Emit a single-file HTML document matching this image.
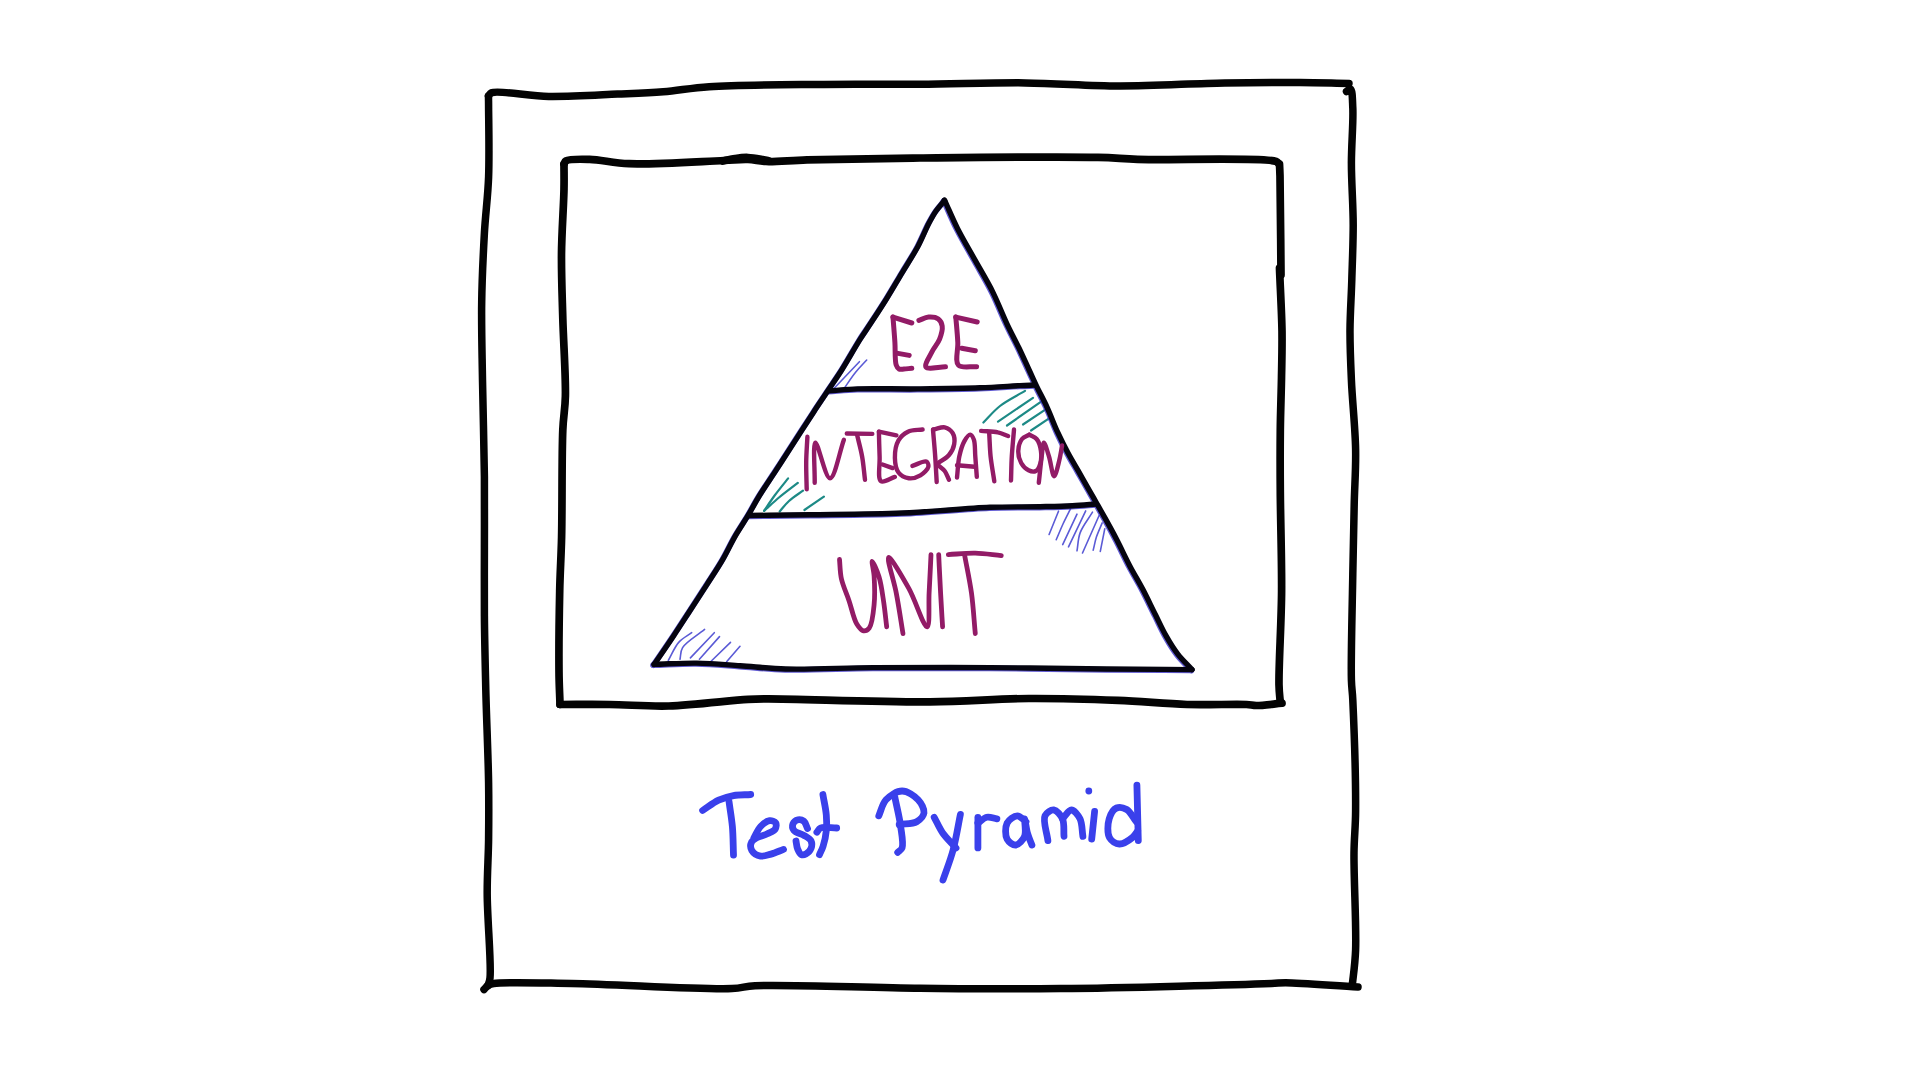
<!DOCTYPE html>
<html><head><meta charset="utf-8"><title>Test Pyramid</title>
<style>
html,body{margin:0;padding:0;background:#fff;width:1920px;height:1080px;overflow:hidden;font-family:"Liberation Sans",sans-serif;}
svg{display:block;}
</style></head>
<body>
<svg width="1920" height="1080" viewBox="0 0 1920 1080">
<rect width="1920" height="1080" fill="#ffffff"/>
<g fill="none" stroke="#5b5bd6" stroke-width="1.6" stroke-linecap="round" stroke-linejoin="round" >
  <path d="M834.4,388.0L859.4,361.7"/>
  <path d="M844.4,388.0C848.1,382.7 851.7,377.0 855.6,372.2C859.2,367.8 863.0,364.1 866.7,360.0"/>
  <path d="M668.3,660.5C671.8,654.5 674.5,647.2 678.7,642.4C682.4,638.2 687.4,635.9 691.7,632.7"/>
  <path d="M680.0,659.2C680.9,655.3 680.2,651.5 682.6,647.6C686.3,641.6 697.3,635.5 704.6,629.4"/>
  <path d="M690.4,657.9L714.3,632.7"/>
  <path d="M699.4,659.2L719.5,636.6"/>
  <path d="M711.1,661.2L730.5,642.4"/>
  <path d="M726.6,661.8L740.0,646.3"/>
  <path d="M1049.1,534.5L1058.5,511.2"/>
  <path d="M1056.2,539.7C1058.5,534.5 1060.6,529.2 1063.0,524.0C1065.4,518.9 1068.0,513.9 1070.5,508.9"/>
  <path d="M1062.7,544.6L1077.0,514.1"/>
  <path d="M1068.5,546.9L1085.7,510.9"/>
  <path d="M1077.0,550.8C1078.1,544.7 1077.9,538.6 1080.2,532.6C1082.8,525.8 1088.4,519.0 1092.5,512.2"/>
  <path d="M1082.5,553.0L1099.0,515.7"/>
  <path d="M1093.2,550.1C1094.3,545.8 1095.0,541.5 1096.4,537.1C1097.9,532.4 1100.3,527.6 1102.2,522.9"/>
  <path d="M1100.3,551.4L1104.8,528.7"/>
</g>
<g fill="none" stroke="#1d8a86" stroke-width="2.2" stroke-linecap="round" stroke-linejoin="round" >
  <path d="M983.4,422.5C988.9,417.0 993.6,411.0 1000.0,406.0C1007.2,400.4 1016.7,395.9 1025.0,390.9"/>
  <path d="M998.0,421.6L1033.0,397.8"/>
  <path d="M1007.0,425.5L1040.8,401.8"/>
  <path d="M1023.0,424.5L1046.8,408.7"/>
  <path d="M1031.0,430.5L1048.7,418.6"/>
  <path d="M764.1,510.8C767.7,505.5 771.1,500.3 775.0,495.0C779.1,489.5 783.7,483.9 788.1,478.4"/>
  <path d="M764.1,510.8C769.1,506.4 773.7,501.9 779.0,497.5C784.8,492.6 791.5,487.8 797.8,482.9"/>
  <path d="M779.7,511.4C782.8,507.9 785.4,504.3 789.0,501.0C793.0,497.3 798.3,494.1 803.0,490.7"/>
  <path d="M804.4,510.0L823.9,496.7"/>
</g>
<g fill="none" stroke="#030303" stroke-width="7.5" stroke-linecap="round" stroke-linejoin="round" >
  <path d="M488.5,96.0C489.5,94.9 489.6,93.6 491.5,92.8C498.5,90.0 528.7,96.1 548.7,96.4C570.6,96.7 596.9,95.0 617.5,94.1C634.3,93.4 648.0,93.0 663.3,91.8C678.6,90.6 690.4,87.9 709.2,86.7C738.8,84.8 787.2,84.8 823.7,84.4C857.2,84.0 887.2,84.5 920.0,84.3C954.4,84.1 991.4,82.6 1025.5,82.9C1057.6,83.2 1086.9,85.8 1119.0,85.9C1153.2,86.0 1192.4,83.4 1224.7,82.9C1251.9,82.4 1277.6,82.3 1300.0,82.5C1318.1,82.6 1332.7,83.2 1349.0,83.5"/>
  <path d="M1346.5,91.5C1347.8,90.7 1349.5,88.5 1350.5,89.0C1352.5,90.0 1352.4,99.9 1352.8,107.8C1353.5,121.3 1351.4,144.1 1351.4,163.0C1351.4,183.1 1353.2,205.0 1353.2,225.0C1353.2,243.9 1352.3,262.1 1351.8,280.0C1351.3,297.1 1350.1,313.3 1350.0,330.0C1349.9,346.7 1350.6,362.0 1351.4,380.0C1352.3,401.2 1355.2,427.2 1355.6,449.0C1356.0,468.6 1354.6,485.4 1354.2,505.0C1353.7,526.8 1353.2,548.5 1352.8,574.0C1352.3,605.6 1350.8,658.6 1351.4,680.0C1351.7,689.3 1352.4,690.6 1352.8,700.0C1353.8,722.0 1355.8,782.8 1355.6,811.0C1355.5,828.3 1354.2,836.1 1354.0,853.0C1353.7,878.7 1356.5,926.8 1355.6,950.0C1355.1,963.0 1353.5,974.4 1352.8,980.5C1352.5,983.1 1352.3,984.2 1352.0,986.0"/>
  <path d="M484.0,989.5C485.3,988.2 486.4,986.5 488.0,985.5C489.6,984.5 490.6,984.0 493.7,983.5C504.7,981.6 541.1,983.0 571.7,983.5C615.6,984.2 702.7,990.0 732.0,988.6C743.2,988.1 743.8,986.3 755.0,985.7C784.9,984.1 867.2,987.8 920.0,988.3C968.7,988.7 1009.0,989.2 1060.6,988.6C1123.8,987.9 1242.6,984.5 1271.5,983.4C1279.0,983.1 1279.1,982.7 1285.6,982.7C1300.4,982.8 1333.9,985.6 1358.0,987.0"/>
  <path d="M488.5,96.0C488.5,100.0 488.6,102.4 488.6,108.0C488.7,121.5 489.4,155.2 488.6,177.0C487.9,196.7 485.5,213.3 484.4,233.0C483.2,254.8 482.0,278.3 481.7,302.0C481.3,327.2 482.1,352.6 482.5,380.0C483.0,410.6 484.1,447.3 484.4,477.0C484.6,502.2 484.4,523.8 484.4,547.0C484.4,570.1 484.2,592.6 484.4,616.0C484.6,640.2 485.2,663.9 485.8,690.0C486.5,719.2 488.2,755.9 488.6,783.0C488.9,804.0 488.8,820.4 488.6,839.0C488.4,857.4 487.1,873.7 487.2,894.0C487.3,919.0 491.5,965.2 490.0,978.0C489.6,981.9 488.7,983.0 488.0,985.5"/>
</g>
<g fill="none" stroke="#030303" stroke-width="7.7" stroke-linecap="round" stroke-linejoin="round" >
  <path d="M564.0,164.0C564.7,162.9 564.6,161.6 566.0,160.8C569.4,158.8 580.7,159.2 589.6,159.4C601.1,159.7 613.0,163.1 629.0,163.7C653.8,164.6 702.8,161.3 724.0,160.5C734.6,160.1 740.6,159.2 748.0,159.5C754.4,159.7 758.8,161.2 766.0,161.5C776.9,161.9 789.9,160.3 807.0,159.8C835.3,159.0 878.1,158.4 920.0,158.0C972.6,157.5 1059.9,156.5 1098.0,157.4C1116.0,157.8 1120.5,158.8 1137.7,159.4C1169.9,160.4 1264.3,156.9 1276.0,161.4C1278.0,162.2 1278.0,163.1 1279.0,164.0"/>
  <path d="M723.0,161.0C727.0,160.2 730.9,159.1 735.0,158.5C739.2,157.9 743.2,157.3 748.0,157.5C754.0,157.7 761.3,159.5 768.0,160.5"/>
  <path d="M1279.5,164.0C1279.7,168.0 1279.8,170.1 1280.0,176.0C1280.4,193.0 1280.7,242.0 1281.0,275.0"/>
  <path d="M1279.5,268.0C1280.3,289.2 1281.7,312.0 1282.0,331.5C1282.2,348.2 1281.8,362.1 1281.5,378.0C1281.2,394.8 1280.5,411.9 1280.3,430.0C1280.1,449.7 1280.1,468.8 1280.3,491.8C1280.5,521.0 1281.8,558.4 1281.6,591.0C1281.4,622.8 1278.6,665.9 1279.0,685.0C1279.2,693.4 1279.9,697.0 1280.3,703.0"/>
  <path d="M560.0,704.5C576.5,704.5 592.2,704.3 609.4,704.5C628.3,704.7 647.5,706.6 668.7,706.0C693.2,705.3 730.4,700.4 748.0,699.4C756.8,698.9 758.0,698.9 767.7,698.9C795.7,698.8 882.6,702.2 930.0,701.8C967.0,701.5 996.7,698.7 1028.8,698.5C1059.3,698.3 1090.2,699.3 1118.0,700.4C1142.5,701.4 1164.8,703.8 1187.0,704.5C1207.6,705.1 1235.0,703.9 1246.5,704.5C1251.2,704.7 1252.3,705.5 1256.4,705.5C1262.9,705.5 1273.5,704.0 1282.0,703.2"/>
  <path d="M564.0,164.0C564.0,172.3 564.2,178.7 564.0,189.0C563.7,205.5 561.7,232.1 561.5,253.7C561.3,275.3 562.2,295.9 562.8,318.5C563.5,343.2 565.8,375.4 565.4,396.0C565.1,409.6 563.4,415.5 562.8,430.0C561.7,455.7 562.3,507.4 561.6,537.0C561.1,558.1 560.1,571.2 559.7,591.0C559.2,615.2 558.8,650.8 559.0,671.7C559.1,685.1 559.7,693.6 560.0,704.5"/>
</g>
<g fill="none" stroke="#3a32c8" stroke-width="5.8" stroke-linecap="round" stroke-linejoin="round" transform="translate(-0.8,0.8)" opacity="0.8">
  <path d="M944.5,200.5C941.7,204.0 938.6,207.3 936.0,211.0C933.4,214.8 931.5,218.3 929.0,223.0C925.6,229.4 922.2,238.3 918.0,246.2C913.4,254.8 907.5,263.8 902.2,272.6C896.9,281.4 891.8,290.4 886.4,299.0C881.2,307.4 875.3,316.3 870.5,323.6C866.7,329.5 863.9,333.2 860.0,339.4C854.7,347.9 847.5,360.8 841.7,370.0C836.8,377.7 832.4,383.9 827.8,390.8C823.2,397.8 819.0,403.9 813.9,411.7C807.5,421.4 799.3,434.3 792.6,444.6C786.7,453.8 781.4,461.9 775.8,470.6C770.2,479.2 763.8,488.6 758.9,496.5C754.9,503.0 752.2,508.5 748.5,514.7C744.5,521.4 739.8,528.2 735.6,535.4C731.2,543.0 727.4,551.4 722.8,559.4C718.0,567.7 712.5,575.8 707.2,584.1C701.7,592.6 696.0,601.4 690.4,610.0C684.8,618.6 679.4,627.1 673.5,635.9C667.3,645.2 660.6,654.9 654.1,664.4"/>
  <path d="M944.5,200.0C948.9,209.6 952.7,219.0 957.6,228.7C962.9,239.1 969.3,249.8 975.2,260.4C981.1,271.0 987.5,281.4 992.8,292.1C998.0,302.6 1002.3,313.9 1006.9,323.8C1011.0,332.6 1015.4,340.5 1019.2,348.5C1022.7,355.9 1026.0,363.3 1029.1,370.0C1031.9,376.0 1034.1,381.0 1036.9,386.9C1040.1,393.5 1043.9,400.3 1047.2,407.6C1050.8,415.4 1054.0,424.4 1057.6,432.2C1061.0,439.5 1064.4,446.3 1068.0,453.0C1071.4,459.3 1074.9,465.1 1078.4,471.2C1081.8,477.2 1085.5,483.7 1088.7,489.3C1091.5,494.2 1093.9,498.4 1096.5,503.0C1099.2,507.8 1101.8,512.3 1104.8,517.7C1108.5,524.3 1112.9,532.3 1116.9,540.0C1121.2,548.3 1125.4,557.5 1129.8,565.9C1134.0,573.9 1138.6,581.3 1142.8,589.3C1147.2,597.7 1151.6,607.1 1155.7,615.2C1159.3,622.5 1162.3,629.3 1166.1,635.9C1169.7,642.3 1173.4,648.4 1177.8,654.1C1182.1,659.7 1187.3,664.4 1192.0,669.6"/>
  <path d="M654.1,664.4C668.3,664.0 682.5,662.9 696.8,663.1C711.2,663.3 725.4,664.7 740.0,665.7C755.0,666.7 768.1,668.5 785.8,669.0C810.3,669.7 842.0,667.9 873.3,667.6C909.4,667.3 951.1,667.4 990.0,667.6C1028.9,667.8 1070.8,668.7 1106.7,669.0C1137.4,669.3 1163.6,669.4 1192.0,669.6"/>
  <path d="M828.9,390.8C838.5,390.2 846.4,389.3 857.8,388.9C874.2,388.4 897.6,389.1 917.8,388.9C938.3,388.7 961.6,388.5 980.0,387.8C994.8,387.3 1009.9,386.1 1020.0,385.6C1026.2,385.3 1030.0,385.2 1035.0,385.0"/>
  <path d="M748.5,515.5C769.0,515.2 787.4,515.1 810.0,514.7C837.7,514.3 872.0,514.3 902.4,513.0C932.0,511.8 964.9,508.3 990.0,507.3C1009.0,506.6 1025.1,507.0 1040.0,506.7C1052.0,506.4 1062.5,506.2 1072.4,505.7C1080.9,505.3 1088.1,504.6 1096.0,504.0"/>
</g>
<g fill="none" stroke="#05040f" stroke-width="5.4" stroke-linecap="round" stroke-linejoin="round" >
  <path d="M944.5,200.5C941.7,204.0 938.6,207.3 936.0,211.0C933.4,214.8 931.5,218.3 929.0,223.0C925.6,229.4 922.2,238.3 918.0,246.2C913.4,254.8 907.5,263.8 902.2,272.6C896.9,281.4 891.8,290.4 886.4,299.0C881.2,307.4 875.3,316.3 870.5,323.6C866.7,329.5 863.9,333.2 860.0,339.4C854.7,347.9 847.5,360.8 841.7,370.0C836.8,377.7 832.4,383.9 827.8,390.8C823.2,397.8 819.0,403.9 813.9,411.7C807.5,421.4 799.3,434.3 792.6,444.6C786.7,453.8 781.4,461.9 775.8,470.6C770.2,479.2 763.8,488.6 758.9,496.5C754.9,503.0 752.2,508.5 748.5,514.7C744.5,521.4 739.8,528.2 735.6,535.4C731.2,543.0 727.4,551.4 722.8,559.4C718.0,567.7 712.5,575.8 707.2,584.1C701.7,592.6 696.0,601.4 690.4,610.0C684.8,618.6 679.4,627.1 673.5,635.9C667.3,645.2 660.6,654.9 654.1,664.4"/>
  <path d="M944.5,200.0C948.9,209.6 952.7,219.0 957.6,228.7C962.9,239.1 969.3,249.8 975.2,260.4C981.1,271.0 987.5,281.4 992.8,292.1C998.0,302.6 1002.3,313.9 1006.9,323.8C1011.0,332.6 1015.4,340.5 1019.2,348.5C1022.7,355.9 1026.0,363.3 1029.1,370.0C1031.9,376.0 1034.1,381.0 1036.9,386.9C1040.1,393.5 1043.9,400.3 1047.2,407.6C1050.8,415.4 1054.0,424.4 1057.6,432.2C1061.0,439.5 1064.4,446.3 1068.0,453.0C1071.4,459.3 1074.9,465.1 1078.4,471.2C1081.8,477.2 1085.5,483.7 1088.7,489.3C1091.5,494.2 1093.9,498.4 1096.5,503.0C1099.2,507.8 1101.8,512.3 1104.8,517.7C1108.5,524.3 1112.9,532.3 1116.9,540.0C1121.2,548.3 1125.4,557.5 1129.8,565.9C1134.0,573.9 1138.6,581.3 1142.8,589.3C1147.2,597.7 1151.6,607.1 1155.7,615.2C1159.3,622.5 1162.3,629.3 1166.1,635.9C1169.7,642.3 1173.4,648.4 1177.8,654.1C1182.1,659.7 1187.3,664.4 1192.0,669.6"/>
  <path d="M654.1,664.4C668.3,664.0 682.5,662.9 696.8,663.1C711.2,663.3 725.4,664.7 740.0,665.7C755.0,666.7 768.1,668.5 785.8,669.0C810.3,669.7 842.0,667.9 873.3,667.6C909.4,667.3 951.1,667.4 990.0,667.6C1028.9,667.8 1070.8,668.7 1106.7,669.0C1137.4,669.3 1163.6,669.4 1192.0,669.6"/>
  <path d="M828.9,390.8C838.5,390.2 846.4,389.3 857.8,388.9C874.2,388.4 897.6,389.1 917.8,388.9C938.3,388.7 961.6,388.5 980.0,387.8C994.8,387.3 1009.9,386.1 1020.0,385.6C1026.2,385.3 1030.0,385.2 1035.0,385.0"/>
  <path d="M748.5,515.5C769.0,515.2 787.4,515.1 810.0,514.7C837.7,514.3 872.0,514.3 902.4,513.0C932.0,511.8 964.9,508.3 990.0,507.3C1009.0,506.6 1025.1,507.0 1040.0,506.7C1052.0,506.4 1062.5,506.2 1072.4,505.7C1080.9,505.3 1088.1,504.6 1096.0,504.0"/>
</g>
<g fill="none" stroke="#921b66" stroke-width="5.0" stroke-linecap="round" stroke-linejoin="round" >
  <path d="M911.8,323.0L893.0,317.1"/>
  <path d="M893.0,317.1C893.6,325.5 894.4,334.2 894.9,342.4C895.4,350.1 894.7,360.7 896.2,365.0C896.9,367.0 897.7,368.3 899.0,369.0C900.3,369.7 902.2,369.1 904.0,369.0C906.3,368.9 909.2,368.5 911.8,368.3"/>
  <path d="M898.0,353.4L909.2,355.4"/>
  <path d="M918.9,320.4C922.1,319.3 925.3,317.3 928.6,317.1C931.8,316.9 936.0,317.3 938.3,319.0C940.4,320.5 941.8,323.4 942.2,326.2C942.7,329.8 941.2,335.0 939.6,339.2C937.9,343.7 934.0,347.5 931.8,352.1C929.5,356.8 924.2,364.4 926.0,367.0C928.0,369.8 939.0,366.8 945.5,366.7"/>
  <path d="M977.2,322.0L955.8,317.1"/>
  <path d="M955.8,317.1C956.5,325.5 957.4,334.2 957.8,342.4C958.2,350.2 954.7,361.2 958.4,365.1C961.7,368.6 970.5,366.2 976.6,366.7"/>
  <path d="M961.7,348.2L975.3,350.8"/>
</g>
<g fill="none" stroke="#921b66" stroke-width="4.4" stroke-linecap="round" stroke-linejoin="round" >
  <path d="M807.4,436.8C807.0,445.2 806.3,453.4 806.2,462.0C806.1,470.9 806.5,480.2 806.7,489.3"/>
  <path d="M814.7,482.7C814.9,469.3 812.8,443.1 815.4,442.6C818.0,442.1 825.3,478.4 830.0,478.3C834.8,478.2 839.3,452.6 843.9,439.7"/>
  <path d="M846.8,433.5L872.3,433.9"/>
  <path d="M857.0,434.6C858.7,441.9 860.8,449.1 862.1,456.5C863.5,464.1 864.0,472.0 865.0,479.8"/>
  <path d="M878.9,431.7L896.4,435.3"/>
  <path d="M878.9,431.7C879.1,440.0 879.3,448.2 879.6,456.5C880.0,464.8 877.4,478.8 881.0,481.3C883.8,483.2 890.3,478.4 894.9,476.9"/>
  <path d="M882.5,464.5L892.7,468.1"/>
  <path d="M922.6,429.5C917.7,430.2 912.1,429.7 908.0,431.7C904.2,433.5 900.7,436.6 898.5,440.4C895.9,444.9 894.8,452.3 894.9,457.9C895.0,463.0 895.9,469.1 898.5,472.5C900.8,475.6 905.2,477.8 908.8,478.3C912.5,478.8 917.1,477.3 920.4,475.4C923.7,473.5 927.9,469.4 928.4,466.7C928.7,464.9 927.8,462.3 926.3,461.6C923.8,460.4 917.0,464.5 912.4,465.9"/>
  <path d="M933.0,429.5C933.7,438.5 934.6,447.6 935.2,456.5C935.8,465.1 936.2,473.5 936.7,482.0"/>
  <path d="M933.7,429.5C937.4,428.8 941.5,426.6 944.7,427.3C947.7,428.0 951.1,430.4 952.7,433.1C954.4,435.9 954.8,440.5 954.2,444.1C953.6,447.8 951.6,451.9 949.0,455.0C946.3,458.3 941.7,460.3 938.1,463.0"/>
  <path d="M938.1,465.2C940.3,467.1 942.9,468.7 944.7,471.0C946.6,473.5 947.6,476.9 949.0,479.8"/>
  <path d="M957.0,477.6C957.8,470.6 957.9,462.9 959.3,456.5C960.5,450.9 962.2,445.0 964.4,441.1C966.0,438.3 968.5,434.5 970.2,434.6C971.6,434.7 973.0,437.3 973.9,439.7C975.3,443.6 974.8,450.6 975.3,456.5C975.8,463.0 976.3,470.1 976.8,476.9"/>
  <path d="M957.0,465.2L974.6,466.7"/>
  <path d="M981.1,430.9C986.7,431.4 993.1,431.3 997.9,432.4C1001.8,433.2 1004.7,434.8 1008.1,436.0"/>
  <path d="M989.2,433.1C989.7,440.9 989.8,448.6 990.6,456.5C991.5,464.7 993.1,473.0 994.3,481.3"/>
  <path d="M1014.0,429.5C1013.3,438.5 1012.3,447.8 1011.8,456.5C1011.3,464.7 1011.3,472.5 1011.0,480.5"/>
  <path d="M1029.3,434.6C1026.9,436.1 1023.8,436.7 1022.0,439.0C1019.9,441.7 1018.5,446.6 1018.3,450.6C1018.1,454.6 1019.3,459.6 1021.2,463.0C1022.9,466.0 1025.8,469.0 1028.5,470.3C1030.8,471.4 1033.9,472.0 1035.8,471.0C1037.9,470.0 1039.3,466.7 1040.2,463.8C1041.3,460.2 1041.5,454.8 1040.9,450.6C1040.3,446.5 1038.9,441.7 1036.6,439.0C1034.7,436.7 1031.7,436.1 1029.3,434.6"/>
  <path d="M1038.8,482.7C1039.8,474.0 1040.7,463.9 1041.7,456.5C1042.4,451.1 1042.7,442.7 1043.9,442.6C1045.1,442.5 1047.4,451.4 1049.0,456.5C1050.9,462.5 1052.3,476.1 1054.1,476.2C1055.7,476.3 1057.9,466.0 1059.2,460.8C1060.5,455.7 1061.1,450.6 1062.1,445.5"/>
</g>
<g fill="none" stroke="#921b66" stroke-width="4.8" stroke-linecap="round" stroke-linejoin="round" >
  <path d="M839.5,559.5C840.1,565.9 840.0,572.2 841.4,578.7C843.0,585.9 846.6,593.4 849.1,600.9C851.7,608.5 853.6,618.8 856.8,624.0C858.8,627.3 861.2,630.4 863.5,630.8C865.4,631.1 867.7,629.9 869.3,627.9C872.3,624.0 873.3,612.9 874.1,604.7C875.0,595.6 874.6,583.8 874.1,575.8C873.7,570.2 871.5,561.6 872.2,561.4C872.9,561.2 877.2,570.9 879.0,576.8C881.3,584.2 882.5,594.3 883.8,602.8C885.0,611.0 885.7,618.9 886.7,626.9"/>
  <path d="M903.0,633.6C900.8,620.1 898.8,606.2 896.3,593.2C894.0,580.9 886.5,558.4 888.6,557.5C890.7,556.6 902.6,577.3 908.8,588.4C915.5,600.3 923.8,627.5 927.1,626.9C930.0,626.3 928.5,604.8 929.1,593.2C929.8,580.8 930.4,567.5 931.0,554.6"/>
  <path d="M938.7,554.6C939.3,567.5 939.9,580.8 940.6,593.2C941.2,604.8 941.9,615.7 942.6,626.9"/>
  <path d="M948.3,554.6C957.3,554.1 966.4,553.0 975.3,553.2C984.1,553.4 992.6,554.8 1001.3,555.6"/>
  <path d="M964.7,555.6C967.0,568.1 969.7,580.4 971.5,593.2C973.3,606.4 974.0,620.1 975.3,633.6"/>
</g>
<g fill="none" stroke="#3a40eb" stroke-width="6.8" stroke-linecap="round" stroke-linejoin="round" >
  <path d="M702.6,810.5C707.9,807.1 713.2,802.7 718.6,800.2C723.5,797.9 728.3,796.6 733.5,795.6C739.0,794.6 745.0,794.9 750.7,794.5"/>
  <path d="M729.0,801.4C730.1,809.8 731.6,817.9 732.4,826.6C733.2,835.8 733.1,845.7 733.5,855.2"/>
  <path d="M753.9,837.9C756.1,834.1 757.8,829.4 760.6,826.5C763.1,823.9 766.7,821.1 769.5,820.7C771.7,820.4 774.8,821.4 775.7,822.8C776.6,824.2 776.3,827.4 775.2,829.1C773.9,831.2 770.3,832.4 767.4,833.8C764.1,835.4 759.3,836.2 756.5,837.9C754.3,839.2 752.1,840.6 751.3,842.6C750.4,844.7 750.5,848.2 751.8,850.4C753.3,852.9 757.4,855.5 760.6,856.1C763.8,856.7 767.4,855.1 771.0,854.1C775.0,853.0 779.3,851.0 783.5,849.4"/>
  <path d="M807.5,828.5C806.3,826.1 805.7,822.7 803.9,821.3C802.4,820.1 799.9,819.3 798.1,819.7C796.2,820.1 793.6,822.1 792.9,823.9C792.2,825.7 792.7,828.8 794.0,830.6C795.7,832.9 801.0,833.5 803.9,835.3C806.6,837.0 810.0,838.7 811.1,841.0C812.1,843.1 811.9,846.1 811.1,848.3C810.2,850.5 807.8,853.1 805.9,854.1C804.5,854.8 802.6,855.2 801.3,854.6C799.7,853.9 798.5,851.0 797.6,848.9C796.6,846.6 796.5,843.6 796.0,841.0"/>
  <path d="M822.9,794.5C824.0,801.3 825.8,808.6 826.3,815.0C826.8,820.5 826.8,825.4 826.3,830.6C825.8,835.9 824.5,842.0 823.1,846.3C822.1,849.6 820.7,851.8 819.5,854.6"/>
  <path d="M816.9,832.2C818.1,830.8 818.6,828.9 820.5,828.0C823.8,826.5 831.3,828.0 836.7,828.0"/>
</g>
<g fill="none" stroke="#3a40eb" stroke-width="6.8" stroke-linecap="round" stroke-linejoin="round" >
  <path d="M878.8,815.8C881.2,810.5 882.2,803.9 886.0,799.8C889.9,795.6 896.7,791.0 902.1,791.0C907.4,791.0 914.4,795.8 918.1,799.8C921.4,803.3 924.5,809.1 924.0,812.9C923.5,816.3 920.1,819.7 916.7,821.7C912.4,824.2 905.0,823.6 899.2,824.6"/>
  <path d="M894.8,796.9C896.7,806.6 899.4,817.0 900.6,826.0C901.6,833.8 903.7,843.6 902.1,847.9C901.2,850.2 899.2,850.8 897.7,852.3"/>
  <path d="M934.2,817.3C937.1,822.6 939.4,828.3 942.9,833.3C946.6,838.5 951.6,843.0 956.0,847.9"/>
  <path d="M960.4,814.4C958.0,826.3 956.1,838.7 953.1,850.0C950.3,860.5 946.4,870.0 943.0,880.0"/>
  <path d="M977.9,817.3L977.9,847.9"/>
  <path d="M977.9,823.1C980.8,821.2 983.5,818.0 986.7,817.3C989.9,816.6 993.5,818.3 996.9,818.8"/>
  <path d="M1026.0,821.7C1023.1,819.7 1020.3,815.8 1017.3,815.8C1014.0,815.8 1008.9,819.6 1007.1,823.1C1005.1,827.1 1005.1,835.5 1007.1,839.2C1008.7,842.2 1013.0,845.3 1015.8,845.0C1018.8,844.7 1023.0,840.1 1024.6,836.3C1026.5,831.8 1024.1,818.9 1024.6,818.8C1025.1,818.8 1026.2,828.8 1027.5,833.3C1028.7,837.5 1030.4,841.1 1031.9,845.0"/>
  <path d="M1047.9,840.6C1046.9,832.3 1042.6,820.9 1045.0,815.8C1046.5,812.5 1051.0,809.7 1053.8,810.0C1056.8,810.3 1060.7,815.0 1062.5,818.8C1064.6,823.4 1063.5,830.5 1064.0,836.3"/>
  <path d="M1062.5,818.8C1065.4,815.9 1068.4,810.0 1071.3,810.0C1074.2,810.0 1078.1,815.0 1080.0,818.8C1082.3,823.4 1081.9,830.5 1082.9,836.3"/>
  <path d="M1094.6,811.5L1091.7,839.2"/>
  <path d="M1088.8,791.0l0.01,0"/>
  <path d="M1136.5,822.0C1133.2,817.8 1130.5,811.7 1126.7,809.5C1123.6,807.7 1119.3,806.8 1116.5,808.0C1113.3,809.4 1110.5,814.5 1109.2,818.8C1107.6,824.0 1107.1,833.4 1109.5,837.7C1111.4,841.1 1115.8,843.8 1119.4,844.0C1123.4,844.2 1129.3,840.1 1132.5,837.5C1134.9,835.6 1135.9,833.2 1137.6,831.0"/>
  <path d="M1136.9,785.2L1138.3,840.6"/>
</g>
</svg>
</body></html>
